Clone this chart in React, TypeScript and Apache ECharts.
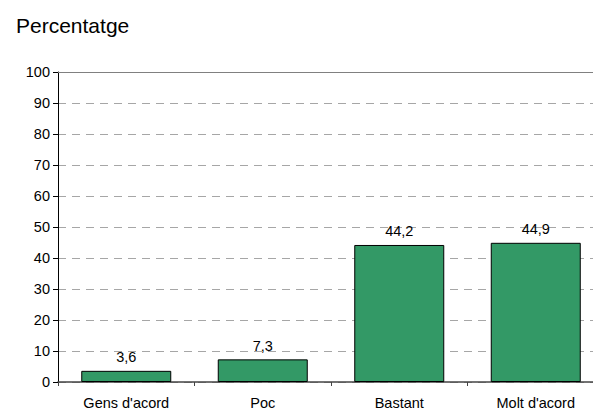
import React, { useEffect, useRef } from "react";
import * as echarts from "echarts";

const categories = ["Gens d'acord", "Poc", "Bastant", "Molt d'acord"];
const values = [3.6, 7.3, 44.2, 44.9];
const titleText = "Percentatge";
const yMin = 0;
const yMax = 100;
const yInterval = 10;

export default function App() {
  const ref = useRef<HTMLDivElement>(null);
  useEffect(() => {
    if (!ref.current) return;
    const chart = echarts.init(ref.current, undefined, { renderer: "svg" });
    const font = "'Liberation Sans', Arial, Helvetica, sans-serif";
    chart.setOption({
      animation: false,
      backgroundColor: "#ffffff",
      title: {
        text: titleText,
        left: 11,
        top: 10,
        textStyle: { fontFamily: font, fontSize: 21, fontWeight: "normal", color: "#000" },
      },
      grid: { left: 58, top: 72, width: 546, height: 310 },
      xAxis: [
        {
          type: "category",
          data: categories,
          axisLine: { show: true, lineStyle: { color: "#444", width: 1.5 } },
          axisTick: { show: true, length: 4, lineStyle: { color: "#444" } },
          axisLabel: { fontFamily: font, fontSize: 14.5, color: "#000", margin: 13 },
          splitLine: { show: false },
        },
        {
          type: "category",
          position: "top",
          data: categories,
          axisLine: { show: true, lineStyle: { color: "#808080", width: 1 } },
          axisTick: { show: false },
          axisLabel: { show: false },
        },
      ],
      yAxis: {
        type: "value",
        min: yMin,
        max: yMax,
        interval: yInterval,
        axisLine: { show: true, lineStyle: { color: "#000", width: 1 } },
        axisTick: { show: true, length: 5, lineStyle: { color: "#000" } },
        axisLabel: { fontFamily: font, fontSize: 14.5, color: "#000", margin: 8 },
        splitLine: {
          show: true,
          lineStyle: { color: "#a6a6a6", type: [8, 6], width: 1 },
        },
      },
      series: [
        {
          type: "bar",
          data: values,
          barWidth: 90,
          itemStyle: { color: "#339966", borderColor: "#000", borderWidth: 1 },
          label: {
            show: true,
            position: "top",
            distance: 6,
            fontFamily: font,
            fontSize: 14.5,
            color: "#000",
            formatter: (p: any) => String(p.value).replace(".", ","),
          },
        },
      ],
    });
    return () => chart.dispose();
  }, []);
  return (
    <div style={{ width: 593, height: 410, position: "absolute", left: 0, top: 0, overflow: "hidden" }}>
      <div ref={ref} style={{ width: 620, height: 410 }} />
    </div>
  );
}
